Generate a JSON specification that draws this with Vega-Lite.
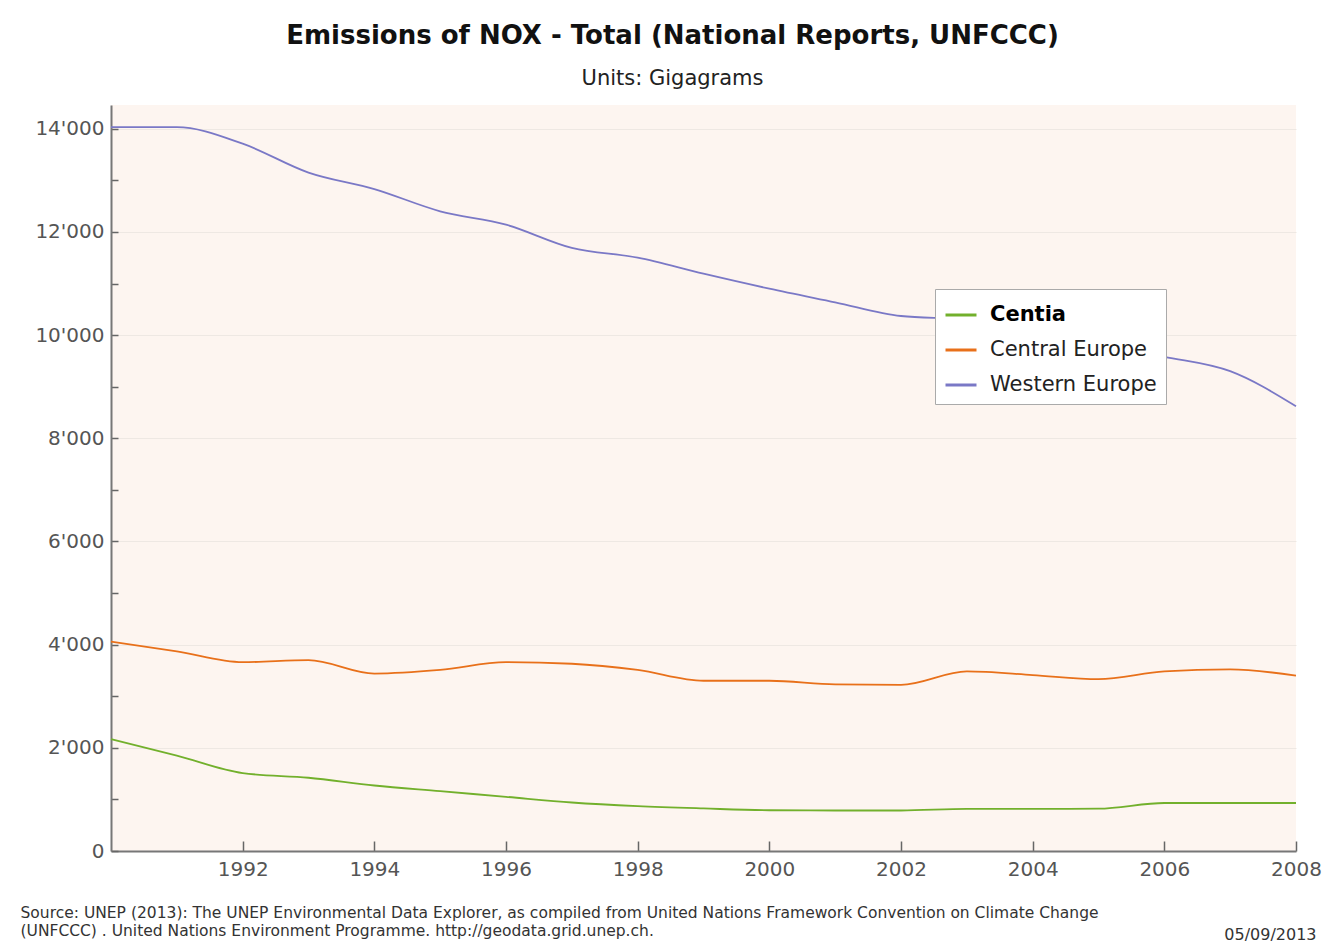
{
  "$schema": "https://vega.github.io/schema/vega-lite/v6.json",
  "autosize": "none",
  "width": 1185,
  "height": 746,
  "padding": {"left": 111, "top": 105, "right": 28, "bottom": 91},
  "background": "white",
  "title": {
    "text": "Emissions of NOX - Total (National Reports, UNFCCC)",
    "subtitle": "Units: Gigagrams",
    "font": "DejaVu Sans",
    "fontSize": 26,
    "fontWeight": "bold",
    "color": "#111111",
    "subtitleFont": "DejaVu Sans",
    "subtitleFontSize": 21,
    "subtitleColor": "#222222",
    "anchor": "middle",
    "frame": "group",
    "dx": -31,
    "offset": 16,
    "subtitlePadding": 19
  },
  "data": {
    "values": [
      {"region": "Centia", "year": 1990, "value": 2170},
      {"region": "Centia", "year": 1991, "value": 1850},
      {"region": "Centia", "year": 1992, "value": 1510},
      {"region": "Centia", "year": 1993, "value": 1420},
      {"region": "Centia", "year": 1994, "value": 1270},
      {"region": "Centia", "year": 1995, "value": 1160},
      {"region": "Centia", "year": 1996, "value": 1050},
      {"region": "Centia", "year": 1997, "value": 940},
      {"region": "Centia", "year": 1998, "value": 870},
      {"region": "Centia", "year": 1999, "value": 825},
      {"region": "Centia", "year": 2000, "value": 790},
      {"region": "Centia", "year": 2001, "value": 785},
      {"region": "Centia", "year": 2002, "value": 785},
      {"region": "Centia", "year": 2003, "value": 817},
      {"region": "Centia", "year": 2004, "value": 817},
      {"region": "Centia", "year": 2005, "value": 820},
      {"region": "Centia", "year": 2006, "value": 930},
      {"region": "Centia", "year": 2007, "value": 930},
      {"region": "Centia", "year": 2008, "value": 930},
      {"region": "Central Europe", "year": 1990, "value": 4060},
      {"region": "Central Europe", "year": 1991, "value": 3870},
      {"region": "Central Europe", "year": 1992, "value": 3660},
      {"region": "Central Europe", "year": 1993, "value": 3700},
      {"region": "Central Europe", "year": 1994, "value": 3440},
      {"region": "Central Europe", "year": 1995, "value": 3510},
      {"region": "Central Europe", "year": 1996, "value": 3660},
      {"region": "Central Europe", "year": 1997, "value": 3630},
      {"region": "Central Europe", "year": 1998, "value": 3510},
      {"region": "Central Europe", "year": 1999, "value": 3300},
      {"region": "Central Europe", "year": 2000, "value": 3300},
      {"region": "Central Europe", "year": 2001, "value": 3230},
      {"region": "Central Europe", "year": 2002, "value": 3220},
      {"region": "Central Europe", "year": 2003, "value": 3480},
      {"region": "Central Europe", "year": 2004, "value": 3410},
      {"region": "Central Europe", "year": 2005, "value": 3330},
      {"region": "Central Europe", "year": 2006, "value": 3480},
      {"region": "Central Europe", "year": 2007, "value": 3520},
      {"region": "Central Europe", "year": 2008, "value": 3400},
      {"region": "Western Europe", "year": 1990, "value": 14030},
      {"region": "Western Europe", "year": 1991, "value": 14030},
      {"region": "Western Europe", "year": 1992, "value": 13710},
      {"region": "Western Europe", "year": 1993, "value": 13150},
      {"region": "Western Europe", "year": 1994, "value": 12830},
      {"region": "Western Europe", "year": 1995, "value": 12400},
      {"region": "Western Europe", "year": 1996, "value": 12140},
      {"region": "Western Europe", "year": 1997, "value": 11690},
      {"region": "Western Europe", "year": 1998, "value": 11500},
      {"region": "Western Europe", "year": 1999, "value": 11190},
      {"region": "Western Europe", "year": 2000, "value": 10900},
      {"region": "Western Europe", "year": 2001, "value": 10635},
      {"region": "Western Europe", "year": 2002, "value": 10370},
      {"region": "Western Europe", "year": 2003, "value": 10300},
      {"region": "Western Europe", "year": 2004, "value": 10060},
      {"region": "Western Europe", "year": 2005, "value": 9830},
      {"region": "Western Europe", "year": 2006, "value": 9580},
      {"region": "Western Europe", "year": 2007, "value": 9300},
      {"region": "Western Europe", "year": 2008, "value": 8620}
    ]
  },
  "mark": {"type": "line", "interpolate": "monotone", "strokeWidth": 1.8},
  "encoding": {
    "x": {
      "field": "year",
      "type": "quantitative",
      "scale": {"domain": [1990, 2008], "nice": false, "zero": false},
      "axis": {
        "values": [1992, 1994, 1996, 1998, 2000, 2002, 2004, 2006, 2008],
        "format": "d",
        "grid": false,
        "labelFont": "DejaVu Sans",
        "labelFontSize": 20,
        "labelColor": "#555555",
        "labelFlush": false,
        "labelOverlap": false,
        "tickSize": -10,
        "tickColor": "#666666",
        "tickWidth": 1.5,
        "labelPadding": 18,
        "domainColor": "#777777",
        "domainWidth": 2,
        "title": [
          "Source: UNEP (2013): The UNEP Environmental Data Explorer, as compiled from United Nations Framework Convention on Climate Change",
          "(UNFCCC) . United Nations Environment Programme. http://geodata.grid.unep.ch."
        ],
        "titleX": -91,
        "titleY": 66,
        "titleAlign": "left",
        "titleAnchor": "start",
        "titleBaseline": "alphabetic",
        "titleFont": "DejaVu Sans",
        "titleFontSize": 15.5,
        "titleFontWeight": "normal",
        "titleColor": "#333333",
        "titleLineHeight": 18
      }
    },
    "y": {
      "field": "value",
      "type": "quantitative",
      "scale": {"domain": [0, 14460], "nice": false},
      "axis": {
        "values": [0, 1000, 2000, 3000, 4000, 5000, 6000, 7000, 8000, 9000, 10000, 11000, 12000, 13000, 14000],
        "labelExpr": "datum.value % 2000 === 0 ? replace(format(datum.value, ','), ',', \"'\") : ''",
        "labelFont": "DejaVu Sans",
        "labelFontSize": 20,
        "labelColor": "#555555",
        "tickSize": -7,
        "tickColor": "#666666",
        "tickWidth": 1.5,
        "labelPadding": 14,
        "domainColor": "#777777",
        "domainWidth": 2,
        "grid": true,
        "gridColor": {"condition": {"test": "datum.value % 2000 === 0 && datum.value > 0", "value": "#EEE8E3"}, "value": "transparent"},
        "gridWidth": 1,
        "title": "05/09/2013",
        "titleAngle": 0,
        "titleAlign": "right",
        "titleBaseline": "alphabetic",
        "titleX": 1205,
        "titleY": 834,
        "titleFont": "DejaVu Sans",
        "titleFontSize": 16,
        "titleFontWeight": "normal",
        "titleColor": "#333333"
      }
    },
    "color": {
      "field": "region",
      "type": "nominal",
      "scale": {
        "domain": ["Centia", "Central Europe", "Western Europe"],
        "range": ["#72B02C", "#E8701A", "#7A78C6"]
      },
      "legend": {
        "orient": "none",
        "legendX": 824,
        "legendY": 184,
        "title": null,
        "fillColor": "white",
        "strokeColor": "#AAAAAA",
        "padding": 9,
        "symbolType": "stroke",
        "symbolStrokeWidth": 3,
        "symbolSize": 961,
        "labelFont": "DejaVu Sans",
        "labelFontSize": 21,
        "labelLimit": 400,
        "labelColor": "#222222",
        "labelOffset": 12,
        "rowPadding": 8,
        "encode": {
          "labels": {
            "update": {
              "fontWeight": {"signal": "datum.label === 'Centia' ? 'bold' : 'normal'"},
              "fill": {"signal": "datum.label === 'Centia' ? '#000000' : '#222222'"}
            }
          }
        }
      }
    }
  },
  "config": {
    "view": {"fill": "#FDF5F0", "stroke": null},
    "font": "DejaVu Sans"
  }
}
